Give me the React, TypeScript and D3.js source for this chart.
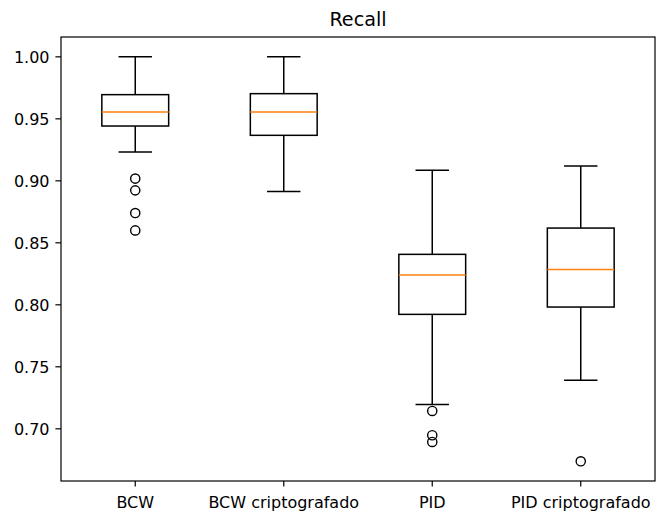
import React from "react";
import * as d3 from "d3";

const categories = ["BCW", "BCW criptografado", "PID", "PID criptografado"];
const whiskerLow = [0.9232, 0.8913, 0.7195, 0.7391];
const q1 = [0.9442, 0.9367, 0.7923, 0.7982];
const median = [0.9555, 0.9555, 0.824, 0.8284];
const q3 = [0.9695, 0.9703, 0.8407, 0.8619];
const whiskerHigh = [1.0, 1.0, 0.9085, 0.9119];
const outliers = [
  [0.9018, 0.8923, 0.874, 0.86],
  [],
  [0.7144, 0.6948, 0.6894],
  [0.6738],
];
const yTicks = [0.7, 0.75, 0.8, 0.85, 0.9, 0.95, 1.0];

export default function App() {
  const W = 657, H = 514;
  const left = 61, right = 655, top = 37, bottom = 481;
  const y = d3.scaleLinear().domain([0.6579, 1.016]).range([bottom, top]);
  const x = d3.scaleLinear().domain([0.5, 4.5]).range([left, right]);
  const step = x(2) - x(1);
  const boxW = step * 0.45;
  const capW = boxW / 2;
  const font = "DejaVu Sans, sans-serif";
  const fs = 16;
  const lw = 1.5;
  return (
    <svg width={W} height={H} style={{ position: "absolute", left: 0, top: 0, background: "#fff" }}>
      <text x={(left + right) / 2} y={26} textAnchor="middle" fontFamily={font} fontSize={19.2} fill="#000">Recall</text>
      {categories.map((c, i) => {
        const cx = x(i + 1);
        return (
          <g key={c}>
            <line x1={cx} x2={cx} y1={y(q3[i])} y2={y(whiskerHigh[i])} stroke="#000" strokeWidth={lw} />
            <line x1={cx} x2={cx} y1={y(q1[i])} y2={y(whiskerLow[i])} stroke="#000" strokeWidth={lw} />
            <line x1={cx - capW / 2} x2={cx + capW / 2} y1={y(whiskerHigh[i])} y2={y(whiskerHigh[i])} stroke="#000" strokeWidth={lw} />
            <line x1={cx - capW / 2} x2={cx + capW / 2} y1={y(whiskerLow[i])} y2={y(whiskerLow[i])} stroke="#000" strokeWidth={lw} />
            <rect x={cx - boxW / 2} width={boxW} y={y(q3[i])} height={y(q1[i]) - y(q3[i])} fill="none" stroke="#000" strokeWidth={lw} />
            <line x1={cx - boxW / 2} x2={cx + boxW / 2} y1={y(median[i])} y2={y(median[i])} stroke="#ff7f0e" strokeWidth={lw} />
            {outliers[i].map((v, j) => (
              <circle key={j} cx={cx} cy={y(v)} r={4.6} fill="none" stroke="#000" strokeWidth={1.4} />
            ))}
            <line x1={cx} x2={cx} y1={bottom} y2={bottom + 5.6} stroke="#000" strokeWidth={1.2} />
            <text x={cx} y={507.5} textAnchor="middle" fontFamily={font} fontSize={fs} fill="#000">{c}</text>
          </g>
        );
      })}
      {yTicks.map((t) => (
        <g key={t}>
          <line x1={left - 5.6} x2={left} y1={y(t)} y2={y(t)} stroke="#000" strokeWidth={1.2} />
          <text x={left - 11.5} y={y(t) + 5.8} textAnchor="end" fontFamily={font} fontSize={fs} fill="#000">{t.toFixed(2)}</text>
        </g>
      ))}
      <rect x={left} y={top} width={right - left} height={bottom - top} fill="none" stroke="#000" strokeWidth={1.2} />
    </svg>
  );
}
